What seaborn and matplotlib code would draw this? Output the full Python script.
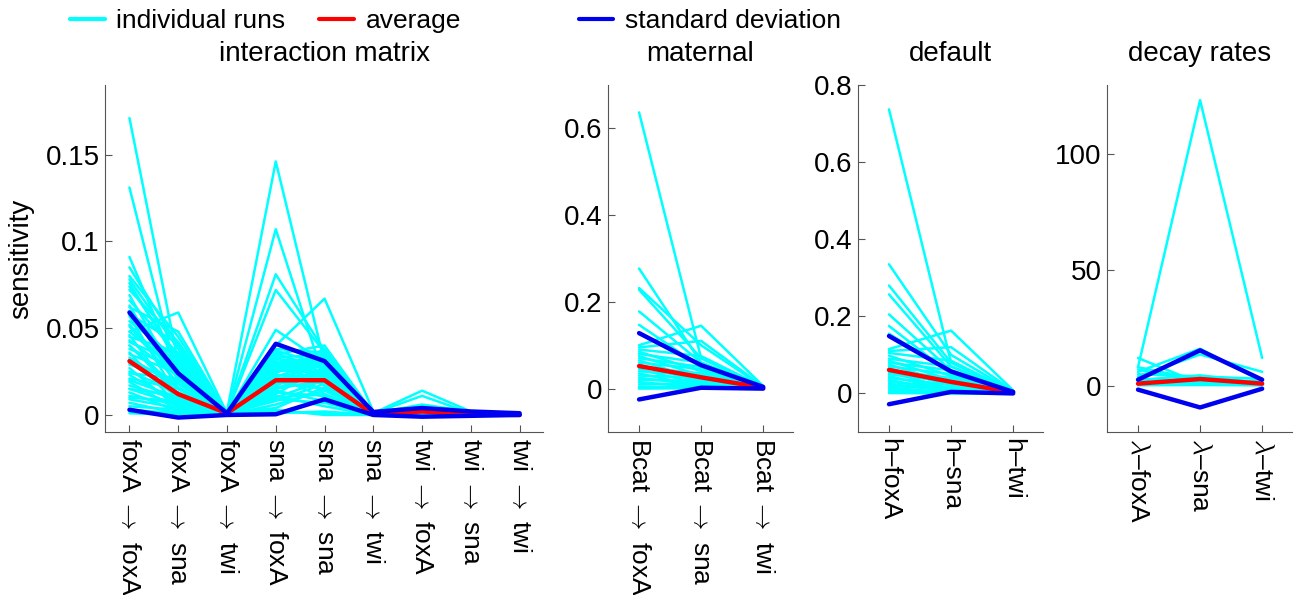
import numpy as np
import pandas as pd
import matplotlib
matplotlib.use("Agg")
import matplotlib.pyplot as plt
import seaborn as sns
from matplotlib.lines import Line2D

# categories / tick labels
ARROW = r" $\rightarrow$ "
interaction_labels = ["foxA" + ARROW + "foxA", "foxA" + ARROW + "sna", "foxA" + ARROW + "twi",
                      "sna" + ARROW + "foxA", "sna" + ARROW + "sna", "sna" + ARROW + "twi",
                      "twi" + ARROW + "foxA", "twi" + ARROW + "sna", "twi" + ARROW + "twi"]
maternal_labels = ["Bcat" + ARROW + "foxA", "Bcat" + ARROW + "sna", "Bcat" + ARROW + "twi"]
default_labels = ["h\u2013foxA", "h\u2013sna", "h\u2013twi"]
decay_labels = [r"$\lambda$" + "\u2013foxA", r"$\lambda$" + "\u2013sna", r"$\lambda$" + "\u2013twi"]

# individual runs
interaction_runs = [
    [0.171, 0.030, 0.001, 0.010, 0.012, 0.001, 0.002, 0.001, 0.000],
    [0.131, 0.020, 0.001, 0.015, 0.020, 0.001, 0.001, 0.000, 0.000],
    [0.010, 0.008, 0.002, 0.146, 0.030, 0.002, 0.003, 0.001, 0.001],
    [0.020, 0.010, 0.001, 0.107, 0.020, 0.001, 0.002, 0.001, 0.000],
    [0.030, 0.012, 0.001, 0.081, 0.037, 0.001, 0.001, 0.001, 0.000],
    [0.015, 0.006, 0.001, 0.072, 0.036, 0.001, 0.002, 0.000, 0.000],
    [0.040, 0.015, 0.001, 0.040, 0.067, 0.002, 0.001, 0.001, 0.001],
    [0.048, 0.059, 0.001, 0.030, 0.025, 0.001, 0.002, 0.001, 0.000],
    [0.091, 0.025, 0.001, 0.049, 0.030, 0.001, 0.014, 0.002, 0.001],
    [0.085, 0.040, 0.002, 0.035, 0.040, 0.001, 0.011, 0.001, 0.000],
    [0.080, 0.045, 0.001, 0.038, 0.036, 0.001, 0.006, 0.002, 0.001],
    [0.076, 0.030, 0.000, 0.030, 0.033, 0.001, 0.004, 0.001, 0.000],
    [0.072, 0.042, 0.001, 0.025, 0.028, 0.001, 0.003, 0.001, 0.000],
    [0.069, 0.020, 0.001, 0.036, 0.024, 0.002, 0.002, 0.001, 0.001],
    [0.066, 0.035, 0.000, 0.020, 0.030, 0.001, 0.005, 0.002, 0.000],
    [0.063, 0.015, 0.001, 0.033, 0.022, 0.001, 0.002, 0.000, 0.000],
    [0.060, 0.028, 0.001, 0.018, 0.035, 0.001, 0.003, 0.001, 0.000],
    [0.057, 0.010, 0.000, 0.028, 0.019, 0.000, 0.001, 0.000, 0.000],
    [0.054, 0.032, 0.001, 0.024, 0.038, 0.001, 0.004, 0.001, 0.001],
    [0.051, 0.018, 0.001, 0.031, 0.017, 0.001, 0.002, 0.001, 0.000],
    [0.048, 0.025, 0.000, 0.015, 0.026, 0.001, 0.001, 0.000, 0.000],
    [0.046, 0.008, 0.001, 0.027, 0.030, 0.001, 0.003, 0.001, 0.000],
    [0.043, 0.022, 0.001, 0.021, 0.021, 0.001, 0.002, 0.001, 0.000],
    [0.040, 0.012, 0.000, 0.034, 0.012, 0.000, 0.001, 0.000, 0.000],
    [0.038, 0.027, 0.001, 0.012, 0.028, 0.001, 0.004, 0.002, 0.001],
    [0.036, 0.005, 0.001, 0.026, 0.024, 0.001, 0.002, 0.000, 0.000],
    [0.033, 0.016, 0.000, 0.019, 0.015, 0.001, 0.001, 0.001, 0.000],
    [0.031, 0.010, 0.001, 0.029, 0.033, 0.001, 0.003, 0.001, 0.000],
    [0.029, 0.020, 0.001, 0.010, 0.020, 0.000, 0.002, 0.000, 0.000],
    [0.027, 0.004, 0.000, 0.022, 0.010, 0.001, 0.001, 0.001, 0.000],
    [0.025, 0.013, 0.001, 0.017, 0.027, 0.001, 0.002, 0.001, 0.000],
    [0.023, 0.007, 0.001, 0.008, 0.018, 0.001, 0.001, 0.000, 0.000],
    [0.021, 0.015, 0.000, 0.023, 0.022, 0.001, 0.003, 0.001, 0.000],
    [0.019, 0.003, 0.001, 0.014, 0.008, 0.000, 0.001, 0.000, 0.000],
    [0.017, 0.009, 0.001, 0.020, 0.025, 0.001, 0.002, 0.001, 0.000],
    [0.015, 0.011, 0.000, 0.006, 0.014, 0.001, 0.001, 0.000, 0.000],
    [0.013, 0.002, 0.001, 0.016, 0.019, 0.001, 0.002, 0.001, 0.000],
    [0.011, 0.006, 0.000, 0.011, 0.005, 0.000, 0.001, 0.000, 0.000],
    [0.009, 0.004, 0.001, 0.004, 0.016, 0.001, 0.001, 0.000, 0.000],
    [0.007, 0.001, 0.000, 0.013, 0.011, 0.001, 0.002, 0.001, 0.000],
    [0.005, 0.003, 0.000, 0.002, 0.001, 0.000, 0.001, 0.000, 0.000],
    [0.003, 0.001, 0.000, 0.009, 0.007, 0.000, 0.000, 0.000, 0.000],
    [0.002, 0.000, 0.000, 0.001, 0.002, 0.000, 0.000, 0.000, 0.000],
    [0.001, 0.000, 0.000, 0.003, 0.000, 0.000, 0.000, 0.000, 0.000],
    [0.078, 0.038, 0.001, 0.032, 0.031, 0.001, 0.004, 0.001, 0.000],
    [0.062, 0.048, 0.001, 0.028, 0.034, 0.001, 0.003, 0.001, 0.000],
    [0.045, 0.036, 0.001, 0.037, 0.029, 0.001, 0.002, 0.001, 0.000],
    [0.035, 0.024, 0.001, 0.033, 0.035, 0.001, 0.003, 0.001, 0.000],
    [0.074, 0.033, 0.001, 0.027, 0.032, 0.001, 0.003, 0.001, 0.000],
    [0.058, 0.041, 0.001, 0.035, 0.027, 0.001, 0.002, 0.001, 0.000],
    [0.052, 0.022, 0.000, 0.022, 0.031, 0.001, 0.002, 0.000, 0.000],
    [0.042, 0.030, 0.001, 0.030, 0.023, 0.001, 0.003, 0.001, 0.000],
    [0.032, 0.018, 0.000, 0.026, 0.030, 0.001, 0.002, 0.001, 0.000],
    [0.024, 0.021, 0.001, 0.018, 0.024, 0.000, 0.001, 0.000, 0.000],
]
maternal_runs = [
    [0.637, 0.070, 0.005], [0.277, 0.060, 0.004], [0.232, 0.100, 0.004],
    [0.228, 0.070, 0.003], [0.178, 0.060, 0.003], [0.147, 0.050, 0.002],
    [0.100, 0.145, 0.006], [0.095, 0.110, 0.005], [0.090, 0.075, 0.004],
    [0.085, 0.040, 0.002], [0.080, 0.060, 0.003], [0.075, 0.030, 0.002],
    [0.070, 0.050, 0.003], [0.065, 0.020, 0.001], [0.060, 0.045, 0.002],
    [0.055, 0.015, 0.001], [0.050, 0.035, 0.002], [0.045, 0.010, 0.001],
    [0.040, 0.030, 0.002], [0.035, 0.005, 0.001], [0.030, 0.025, 0.001],
    [0.025, 0.008, 0.001], [0.020, 0.018, 0.001], [0.015, 0.003, 0.000],
    [0.010, 0.012, 0.001], [0.005, 0.002, 0.000], [0.002, 0.006, 0.000],
    [0.000, 0.001, 0.000],
]
default_runs = [
    [0.737, 0.080, 0.006], [0.335, 0.100, 0.005], [0.280, 0.080, 0.004],
    [0.257, 0.070, 0.004], [0.205, 0.060, 0.003], [0.175, 0.050, 0.003],
    [0.155, 0.055, 0.002], [0.115, 0.163, 0.008], [0.110, 0.120, 0.006],
    [0.105, 0.085, 0.004], [0.098, 0.045, 0.002], [0.090, 0.070, 0.003],
    [0.085, 0.035, 0.002], [0.080, 0.060, 0.003], [0.075, 0.025, 0.002],
    [0.070, 0.050, 0.002], [0.065, 0.020, 0.001], [0.060, 0.040, 0.002],
    [0.055, 0.012, 0.001], [0.050, 0.030, 0.002], [0.045, 0.008, 0.001],
    [0.040, 0.022, 0.001], [0.035, 0.004, 0.000], [0.030, 0.015, 0.001],
    [0.025, 0.006, 0.000], [0.020, 0.010, 0.001], [0.015, 0.002, 0.000],
    [0.010, 0.005, 0.000], [0.005, 0.001, 0.000], [0.001, 0.000, 0.000],
]
decay_runs = [
    [8.0, 123.5, 12.0], [12.0, 1.0, 0.5], [6.0, 16.0, 2.0], [4.0, 13.5, 6.0],
    [8.0, 2.5, 1.0], [5.0, 4.0, 3.0], [3.0, 1.0, 0.5], [2.0, 3.0, 1.5],
    [1.0, 0.5, 0.3], [0.5, 2.0, 0.8], [0.2, 0.3, 0.2], [7.0, 1.5, 0.6],
    [2.5, 4.5, 1.2], [1.5, 0.8, 2.5], [0.8, 1.2, 0.4],
]

# average and average +/- standard deviation
interaction_mean = [0.031, 0.012, 0.001, 0.020, 0.020, 0.0004, 0.002, 0.0005, 0.0]
interaction_upper = [0.059, 0.024, 0.001, 0.041, 0.031, 0.0017, 0.004, 0.002, 0.001]
interaction_lower = [0.003, -0.0015, 0.0, 0.0004, 0.009, 0.0, -0.001, -0.0005, 0.0]
maternal_mean = [0.052, 0.026, 0.002]
maternal_upper = [0.128, 0.054, 0.004]
maternal_lower = [-0.025, 0.002, 0.0]
default_mean = [0.061, 0.030, 0.003]
default_upper = [0.149, 0.057, 0.004]
default_lower = [-0.028, 0.004, 0.0]
decay_mean = [0.9, 2.9, 0.9]
decay_upper = [2.6, 15.3, 2.6]
decay_lower = [-1.7, -9.4, -1.3]

CYAN = "#00ffff"
RED = "#ff0000"
BLUE = "#0000f0"
FONT = ["Liberation Sans", "DejaVu Sans"]

sns.set_style("white")
plt.rcParams["font.family"] = FONT
plt.rcParams["mathtext.fontset"] = "cm"
plt.rcParams["axes.edgecolor"] = "#555555"
plt.rcParams["text.color"] = "black"
plt.rcParams["axes.labelcolor"] = "black"


def long_form(runs):
    rows = []
    for r, vals in enumerate(runs):
        for i, v in enumerate(vals):
            rows.append({"run": r, "param": i, "sensitivity": v})
    return pd.DataFrame(rows)


def draw_panel(ax, title, labels, runs, mean, upper, lower, ylim, yticks, yticklabels):
    sns.lineplot(data=long_form(runs), x="param", y="sensitivity", units="run",
                 estimator=None, color=CYAN, lw=1.8, ax=ax, legend=False)
    pos = list(range(len(labels)))
    sns.lineplot(x=pos, y=mean, color=RED, lw=3.2, ax=ax)
    sns.lineplot(x=pos, y=upper, color=BLUE, lw=3.2, ax=ax)
    sns.lineplot(x=pos, y=lower, color=BLUE, lw=3.2, ax=ax)
    ax.set_xlim(-0.5, len(labels) - 0.52)
    ax.set_ylim(*ylim)
    ax.set_xticks(pos)
    ax.set_xticklabels(labels, rotation=270, va="top", ha="center", fontsize=19)
    ax.set_yticks(yticks)
    ax.set_yticklabels(yticklabels, fontsize=20)
    ax.tick_params(bottom=True, left=True, direction="in", length=5, width=0.8,
                   color="#555555", labelcolor="black", pad=4)
    ax.set_xlabel("")
    ax.set_ylabel("")
    ax.set_title(title, fontsize=20, pad=17)
    sns.despine(ax=ax)


fig = plt.figure(figsize=(12.97, 5.95), dpi=100)
bottom, height = 0.274, 0.583
ax1 = fig.add_axes([0.081, bottom, 0.3377, height])
ax2 = fig.add_axes([0.4688, bottom, 0.1426, height])
ax3 = fig.add_axes([0.6615, bottom, 0.1426, height])
ax4 = fig.add_axes([0.8535, bottom, 0.1426, height])

draw_panel(ax1, "interaction matrix", interaction_labels, interaction_runs,
           interaction_mean, interaction_upper, interaction_lower,
           (-0.0098, 0.19), [0, 0.05, 0.1, 0.15], ["0", "0.05", "0.1", "0.15"])
draw_panel(ax2, "maternal", maternal_labels, maternal_runs,
           maternal_mean, maternal_upper, maternal_lower,
           (-0.1, 0.7), [0, 0.2, 0.4, 0.6], ["0", "0.2", "0.4", "0.6"])
draw_panel(ax3, "default", default_labels, default_runs,
           default_mean, default_upper, default_lower,
           (-0.1, 0.8), [0, 0.2, 0.4, 0.6, 0.8], ["0", "0.2", "0.4", "0.6", "0.8"])
draw_panel(ax4, "decay rates", decay_labels, decay_runs,
           decay_mean, decay_upper, decay_lower,
           (-20, 130), [0, 50, 100], ["0", "50", "100"])

ax1.set_ylabel("sensitivity", fontsize=20, labelpad=8)

# legend entries placed separately along the top
for color, label, x in [(CYAN, "individual runs", 0.046),
                        (RED, "average", 0.238),
                        (BLUE, "standard deviation", 0.438)]:
    fig.legend(handles=[Line2D([], [], color=color, lw=3)], labels=[label],
               loc="upper left", bbox_to_anchor=(x, 1.002), frameon=False,
               fontsize=19, handlelength=1.3, handletextpad=0.45, borderaxespad=0)

fig.savefig("out.png", dpi=100)
